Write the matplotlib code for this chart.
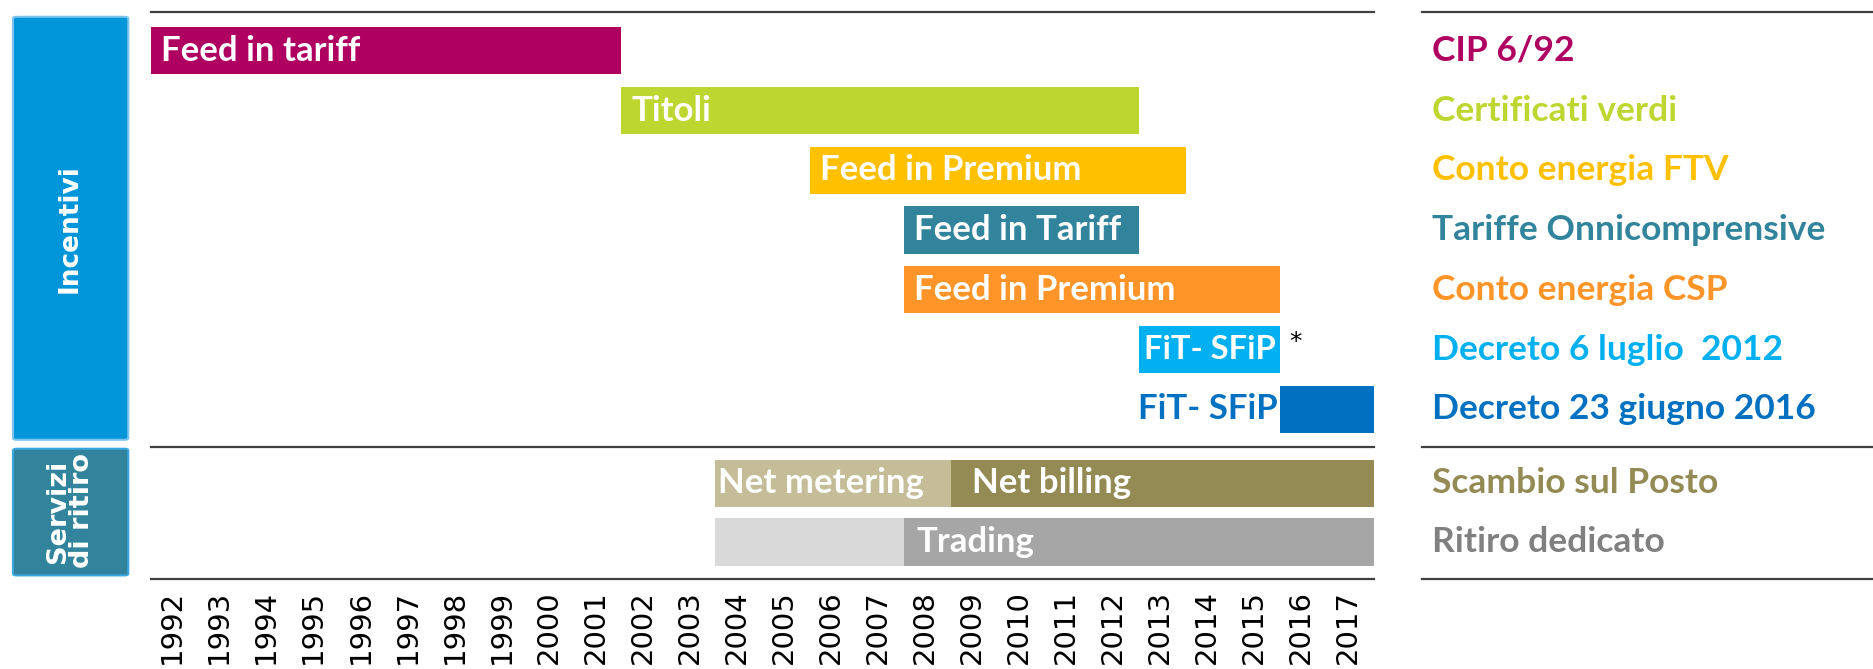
import matplotlib
matplotlib.use("Agg")
import matplotlib.pyplot as plt
from matplotlib.patches import FancyBboxPatch

# incentive schemes (one row each)
schemes = ["CIP 6/92", "Certificati verdi", "Conto energia FTV", "Tariffe Onnicomprensive",
           "Conto energia CSP", "Decreto 6 luglio  2012", "Decreto 23 giugno 2016"]
scheme_start = [1992, 2002, 2006, 2008, 2008, 2013, 2016]
scheme_end = [2002, 2013, 2014, 2013, 2016, 2016, 2018]
scheme_text = ["Feed in tariff", "Titoli", "Feed in Premium", "Feed in Tariff",
               "Feed in Premium", "FiT- SFiP", "FiT- SFiP"]
scheme_colors = ["#AF0061", "#BED630", "#FFC000", "#31849B", "#FF9428", "#00B0F0", "#0070C0"]

# withdrawal services (two segments each)
services = ["Scambio sul Posto", "Ritiro dedicato"]
service_bounds = [[2004, 2009, 2018], [2004, 2008, 2018]]
service_text = [["Net metering", "Net billing"], ["", "Trading"]]
service_colors = [["#C4BD97", "#948A54"], ["#D9D9D9", "#A6A6A6"]]
service_text_color = ["#948A54", "#808080"]

years = list(range(1992, 2018))

W, H = 1874, 669
fig = plt.figure(figsize=(W / 100, H / 100), dpi=100)
LINE = "#404040"
BOLD = dict(family="Lato", weight="bold")

def rect(x0, y0, x1, y1):
    return [x0 / W, 1 - y1 / H, (x1 - x0) / W, (y1 - y0) / H]

ylims = (8.84, -0.65)
ax = fig.add_axes(rect(151, 12, 1374, 579))
ax.set_xlim(1992, 2018)
ax.set_ylim(*ylims)
for s in ax.spines.values():
    s.set_visible(False)
ax.set_yticks([])

bar_h = 0.79
for i in range(len(schemes)):
    ax.barh(i, scheme_end[i] - scheme_start[i], left=scheme_start[i], height=bar_h,
            color=scheme_colors[i])
    if i == 6:
        # label sits left of the bar, in bar colour
        ax.text(scheme_start[i] - 0.05, i, scheme_text[i], ha="right", va="center",
                color=scheme_colors[i], fontsize=25, **BOLD)
    elif i == 5:
        # short bar: tighter label
        ax.text(scheme_start[i] + 0.1, i, scheme_text[i], ha="left", va="center",
                color="white", fontsize=23.5, **BOLD)
    else:
        ax.text(scheme_start[i] + 0.22, i, scheme_text[i], ha="left", va="center",
                color="white", fontsize=25, **BOLD)
ax.text(2016.2, 5 - 0.12, "*", ha="left", va="center", fontsize=18, color="black")

for j in range(len(services)):
    y = 7.24 + j * 0.98
    b = service_bounds[j]
    for k in range(2):
        ax.barh(y, b[k + 1] - b[k], left=b[k], height=bar_h, color=service_colors[j][k])
        pad = 0.05 if k == 0 else (0.45 if j == 0 else 0.28)
        ax.text(b[k] + pad, y, service_text[j][k], ha="left", va="center",
                color="white", fontsize=25, **BOLD)

for yl in (-0.65, 6.63, 8.84):
    ax.axhline(yl, color=LINE, lw=1.6, clip_on=False)

ax.set_xticks([y + 0.45 for y in years])
ax.set_xticklabels([str(y) for y in years], rotation=90, fontsize=21,
                   family="DejaVu Sans", va="top")
ax.tick_params(axis="x", length=0, pad=8)

# right-hand legend column
ax2 = fig.add_axes(rect(1422, 12, 1874, 579))
ax2.set_xlim(0, 1)
ax2.set_ylim(*ylims)
ax2.axis("off")
for yl in (-0.65, 6.63, 8.84):
    ax2.axhline(yl, color=LINE, lw=1.6, clip_on=False)
for i, name in enumerate(schemes):
    ax2.text(0.022, i, name, ha="left", va="center", color=scheme_colors[i],
             fontsize=25.5, **BOLD)
for j, name in enumerate(services):
    ax2.text(0.022, 7.24 + j * 0.98, name, ha="left", va="center",
             color=service_text_color[j], fontsize=25.5, **BOLD)

# left group boxes
ax0 = fig.add_axes(rect(8, 12, 132, 579))
ax0.set_xlim(0, 1)
ax0.set_ylim(*ylims)
ax0.axis("off")
ax0.add_patch(FancyBboxPatch((0.04, -0.57), 0.93, 7.08, boxstyle="round,pad=0,rounding_size=0.03",
                             facecolor="#0096D9", edgecolor="#7CC4EC", lw=1.5))
ax0.add_patch(FancyBboxPatch((0.04, 6.66), 0.93, 2.12, boxstyle="round,pad=0,rounding_size=0.03",
                             facecolor="#31849B", edgecolor="#3AA6E0", lw=1.5))
ax0.text(0.5, 2.97, "Incentivi", rotation=90, ha="center", va="center", color="white",
         fontsize=19, family="DejaVu Sans", weight="bold")
ax0.text(0.5, 7.7, "Servizi\ndi ritiro", rotation=90, ha="center", va="center", color="white",
         fontsize=19.5, family="DejaVu Sans", weight="bold", linespacing=0.9)

fig.savefig("out.png", dpi=100)
